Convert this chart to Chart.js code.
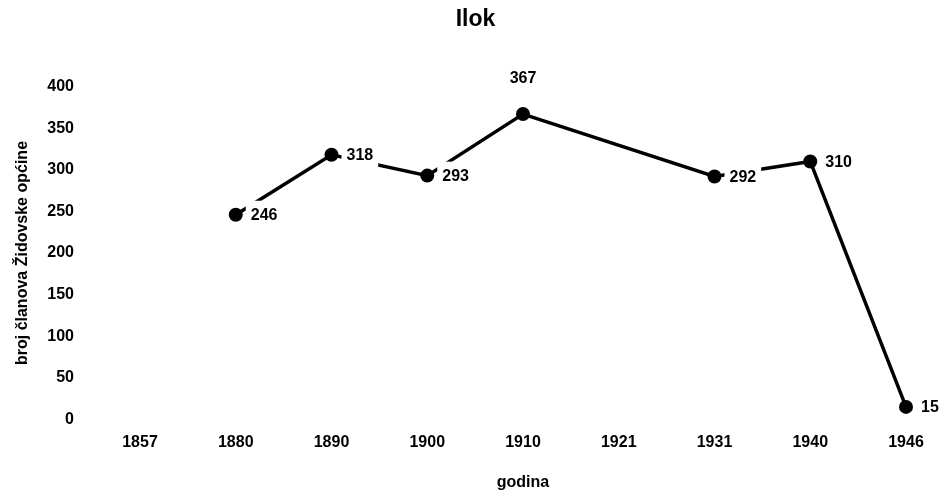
<!DOCTYPE html>
<html>
<head>
<meta charset="utf-8">
<script src="https://cdn.jsdelivr.net/npm/chart.js@4.4.1/dist/chart.umd.min.js"></script>
<style>
  html, body { margin: 0; padding: 0; background: #fff; overflow: hidden; }
  #wrap { width: 944px; height: 495px; position: relative; }
</style>
</head>
<body>
<div id="wrap"><canvas id="c"></canvas></div>
<script>
const categories = ['1857', '1880', '1890', '1900', '1910', '1921', '1931', '1940', '1946'];
const members = [null, 246, 318, 293, 367, null, 292, 310, 15];
const yTicks = [0, 50, 100, 150, 200, 250, 300, 350, 400];
const chartTitle = 'Ilok';
const xTitle = 'godina';
const yTitle = 'broj članova Židovske općine';

const FONT = "'Liberation Sans', Arial, Helvetica, sans-serif";
Chart.defaults.color = '#000';
Chart.defaults.font.family = FONT;

const valueLabels = {
  id: 'valueLabels',
  afterDatasetDraw(chart, args, opts) {
    if (args.index !== 1) return;
    const ctx = chart.ctx;
    const meta = chart.getDatasetMeta(1);
    const data = chart.data.datasets[1].data;
    ctx.save();
    ctx.font = 'bold 16px ' + FONT;
    ctx.textBaseline = 'middle';
    meta.data.forEach((el, i) => {
      const v = data[i];
      if (v === null || v === undefined) return;
      const txt = String(v);
      const w = ctx.measureText(txt).width;
      let x, y;
      if (opts.above.includes(i)) {
        x = el.x - w / 2;
        y = el.y - 36;
      } else {
        x = el.x + 15;
        y = el.y;
      }
      ctx.fillStyle = '#fff';
      ctx.fillRect(x - 5, y - 14, w + 10, 26);
      ctx.fillStyle = '#000';
      ctx.textAlign = 'left';
      ctx.fillText(txt, x, y + 1);
    });
    ctx.restore();
  }
};

new Chart(document.getElementById('c'), {
  type: 'line',
  data: {
    labels: categories,
    datasets: [
      {
        data: members,
        showLine: false,
        pointRadius: 7,
        pointHoverRadius: 7,
        pointBackgroundColor: '#000',
        pointBorderColor: '#000',
        pointBorderWidth: 0
      },
      {
        data: members,
        borderColor: '#000',
        borderWidth: 3.5,
        pointRadius: 0,
        spanGaps: true,
        tension: 0
      }
    ]
  },
  options: {
    responsive: true,
    maintainAspectRatio: false,
    animation: false,
    devicePixelRatio: 1,
    layout: { padding: { left: 7, right: 0, top: 0, bottom: -3 } },
    plugins: {
      legend: { display: false },
      tooltip: { enabled: false },
      title: {
        display: true,
        text: chartTitle,
        font: { size: 23, weight: 'bold', family: FONT },
        color: '#000',
        padding: { top: 6, bottom: 53 }
      },
      valueLabels: { above: [4] }
    },
    scales: {
      x: {
        type: 'category',
        offset: false,
        grid: { display: false, drawTicks: false },
        border: { display: false },
        ticks: { font: { size: 16, weight: 'bold' }, color: '#000', padding: 14, maxRotation: 0, autoSkip: false },
        title: { display: true, text: xTitle, font: { size: 16, weight: 'bold' }, color: '#000', padding: { top: 0, bottom: 0 } },
        afterFit(s) { s.height = 73; }
      },
      y: {
        min: 0,
        max: 400,
        grid: { display: false, drawTicks: false },
        border: { display: false },
        afterBuildTicks(s) { s.ticks = yTicks.map(v => ({ value: v })); },
        ticks: { font: { size: 16, weight: 'bold' }, color: '#000', padding: 66 },
        title: { display: true, text: yTitle, font: { size: 16, weight: 'bold' }, color: '#000', padding: { top: 6, bottom: 0 } },
        afterFit(s) { s.width = 133; }
      },
      yRight: {
        position: 'right',
        display: true,
        grid: { display: false, drawTicks: false },
        border: { display: false },
        ticks: { display: false },
        afterFit(s) { s.width = 38; }
      }
    }
  },
  plugins: [valueLabels]
});
</script>
</body>
</html>
